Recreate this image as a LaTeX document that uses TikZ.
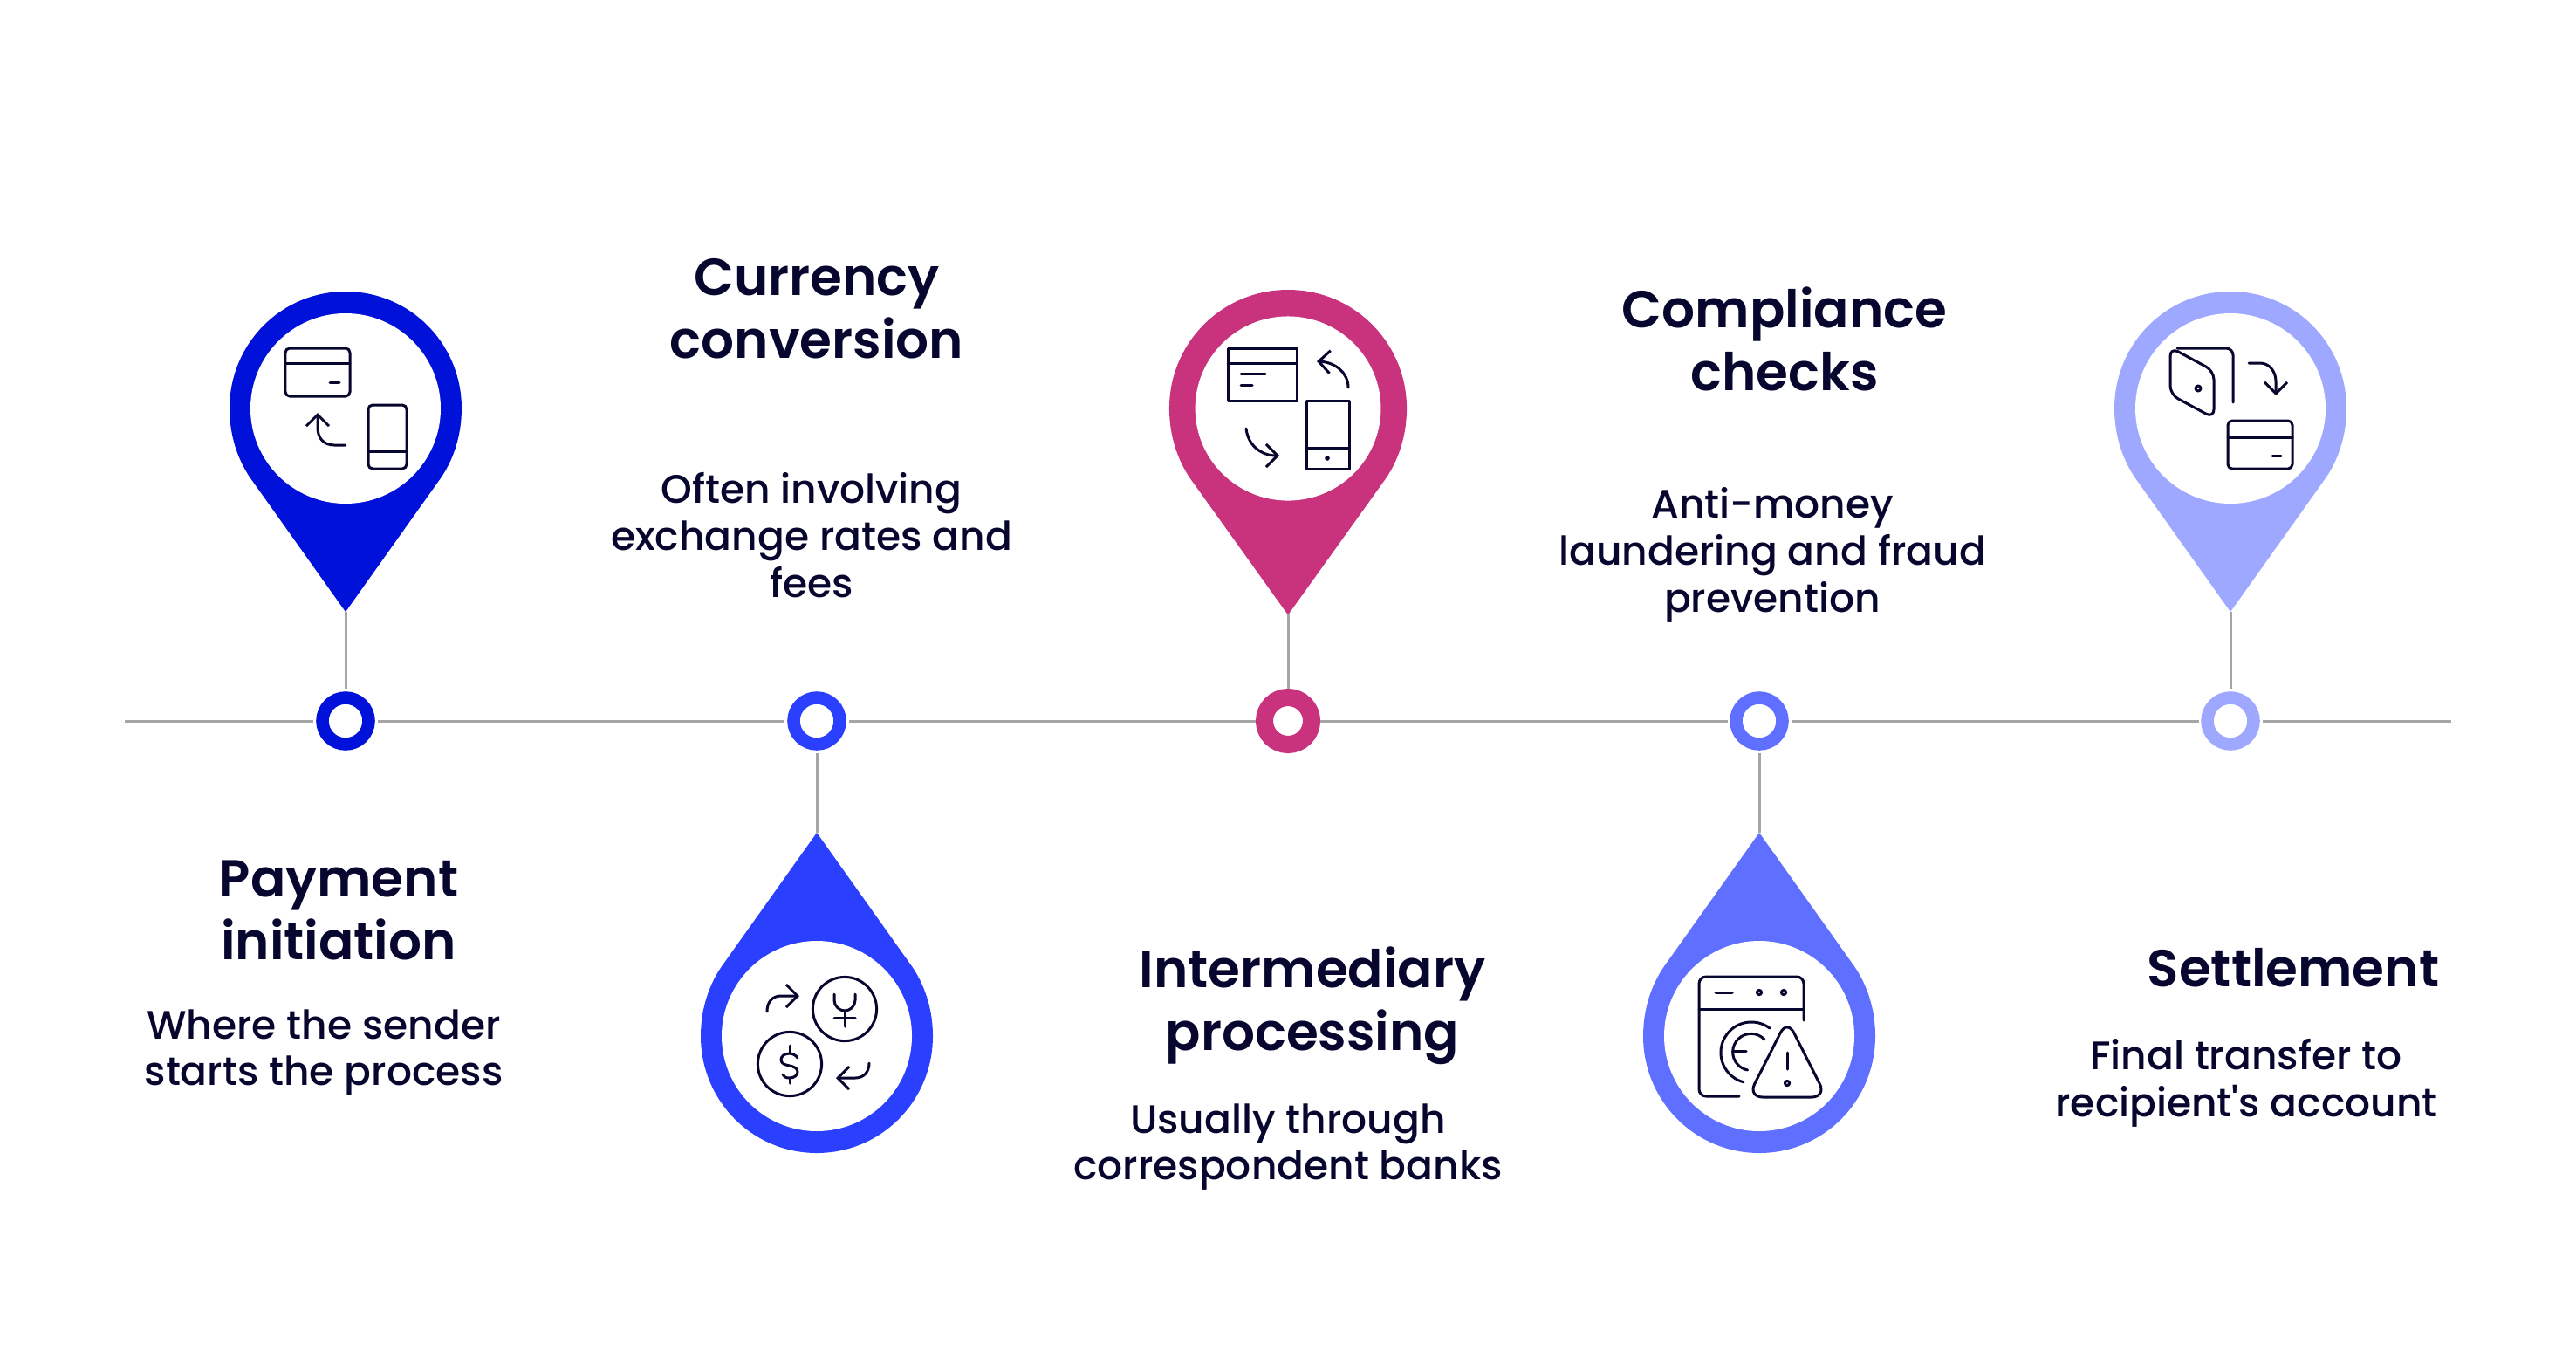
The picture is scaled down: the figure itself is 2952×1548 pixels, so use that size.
\documentclass[tikz,border=0pt]{standalone}
\usepackage{fontspec}
\usepackage{xcolor}
\setmainfont{Poppins Medium}
\newfontfamily\headfont{Poppins SemiBold}
\usetikzlibrary{shapes.geometric, arrows.meta, positioning}

\definecolor{pinA}{HTML}{0012D9}
\definecolor{pinB}{HTML}{2B3FFF}
\definecolor{pinC}{HTML}{C9337D}
\definecolor{pinD}{HTML}{5F6FFF}
\definecolor{pinE}{HTML}{9FA8FF}
\definecolor{inkblue}{HTML}{06062F}
\definecolor{axisgray}{HTML}{A6A6A6}

% center, xscale, yscale (negative flips the tip up), colour, hole radius
\newcommand{\pinshape}[5]{
\begin{scope}[shift={#1}, xscale=#2, yscale=#3]
\fill[#4] (0,233) -- (-106,84) .. controls (-124,60) and (-133,30) .. (-133,0)
  .. controls (-133,-74) and (-74,-134) .. (0,-134)
  .. controls (74,-134) and (133,-74) .. (133,0)
  .. controls (133,30) and (124,60) .. (106,84) -- cycle;
\fill[white] (0,0) circle [radius=#5];
\end{scope}
}

\tikzset{
  axisline/.style={axisgray, line width=0.85pt},
  ring/.style={circle, draw=#1, fill=white, line width=0.145cm, inner sep=0pt, minimum size=0.53cm, outer sep=0.10cm},
  headtext/.style={inkblue, align=center, font=\headfont\fontsize{16.95}{20.5}\selectfont},
  bodytext/.style={inkblue, align=center, font=\fontsize{12.95}{15.3}\selectfont},
  icon/.style={inkblue, line width=0.85pt, line cap=round, line join=round},
  iconarrow/.style={icon, -{Straight Barb[length=0.13cm, width=0.26cm, line width=0.85pt]}},
}

\begin{document}
\begin{tikzpicture}[x=0.01cm, y=-0.01cm]
\useasboundingbox (0,0) rectangle (2952,1548);

% Pins above and below the line
\pinshape{(396,468)}{1}{1}{pinA}{109}
\pinshape{(936,1187)}{1}{-1}{pinB}{109}
\pinshape{(1476,468)}{1.023}{1.015}{pinC}{104}
\pinshape{(2016,1187)}{1}{-1}{pinD}{109}
\pinshape{(2556,468)}{1}{1}{pinE}{109}

\coordinate (tipA) at (396,701);
\coordinate (tipB) at (936,954);
\coordinate (tipC) at (1476,704);
\coordinate (tipD) at (2016,954);
\coordinate (tipE) at (2556,701);
\coordinate (lineL) at (143,826);
\coordinate (lineR) at (2809,826);

% Rings on the line
\node[ring=pinA] (ringA) at (396,826) {};
\node[ring=pinB] (ringB) at (936,826) {};
\node[ring=pinC, line width=0.20cm, minimum size=0.54cm, outer sep=0.10cm] (ringC) at (1476,826) {};
\node[ring=pinD] (ringD) at (2016,826) {};
\node[ring=pinE] (ringE) at (2556,826) {};

% Line and stems
\draw[axisline] (lineL) -- (ringA);
\draw[axisline] (ringA) -- (ringB);
\draw[axisline] (ringB) -- (ringC);
\draw[axisline] (ringC) -- (ringD);
\draw[axisline] (ringD) -- (ringE);
\draw[axisline] (ringE) -- (lineR);
\draw[axisline] (tipA) -- (ringA);
\draw[axisline] (tipB) -- (ringB);
\draw[axisline] (tipC) -- (ringC);
\draw[axisline] (tipD) -- (ringD);
\draw[axisline] (tipE) -- (ringE);

% Headings
\node[headtext] (headA) at (388,1043) {Payment\\initiation};
\node[headtext] (headB) at (936,354) {Currency\\conversion};
\node[headtext] (headC) at (1504,1152) {Intermediary\\processing};
\node[headtext] (headD) at (2045,388) {Compliance\\checks};
\node[headtext] (headE) at (2628,1109) {Settlement};

% Descriptions
\node[bodytext] (textA) at (371,1206) {Where the sender\\starts the process};
\node[bodytext] (textB) at (930,613) {Often involving\\exchange rates and\\fees};
\node[bodytext] (textC) at (1476,1314) {Usually through\\correspondent banks};
\node[bodytext] (textD) at (2031,636) {Anti-money\\laundering and fraud\\prevention};
\node[bodytext] (textE) at (2574,1241) {Final transfer to\\recipient\textquotesingle s account};

% Icon in first pin
\draw[icon, rounded corners=0.05cm] (327,399) rectangle (401,454);
\draw[icon] (327,416) -- (401,416);
\draw[icon] (378,438) -- (389,438);
\draw[icon, rounded corners=0.05cm] (422,464) rectangle (466,537);
\draw[icon] (422,517) -- (466,517);
\draw[iconarrow] (396,510) -- (383,510) .. controls (371,510) and (364,502) .. (364,490) -- (364,473);

% Icon in second pin
\draw[icon] (968,1156) circle [radius=36.6];
\draw[icon] (956,1139) -- (956,1146) .. controls (956,1153) and (962,1158) .. (968,1158) .. controls (974,1158) and (980,1153) .. (980,1146) -- (980,1139);
\draw[icon] (968,1158) -- (968,1176);
\draw[icon] (956,1166) -- (980,1166);
\draw[icon] (905,1219) circle [radius=36.6];
\draw[icon] (914,1212) .. controls (912,1209) and (908,1207) .. (905,1207) .. controls (899,1207) and (895,1210) .. (895,1214) .. controls (895,1219) and (900,1220) .. (905,1221) .. controls (910,1222) and (914,1224) .. (914,1228) .. controls (914,1232) and (910,1235) .. (905,1235) .. controls (901,1235) and (898,1234) .. (897,1231);
\draw[icon] (905,1198) -- (905,1207);
\draw[icon] (905,1235) -- (905,1241);
\draw[iconarrow] (879,1159) .. controls (879,1148) and (885,1141) .. (895,1141) -- (916,1141);
\draw[iconarrow] (996,1218) .. controls (996,1228) and (990,1235) .. (980,1235) -- (958,1235);

% Icon in third pin
\draw[icon] (1407,399) rectangle (1486,459);
\draw[icon] (1407,416) -- (1486,416);
\draw[icon] (1422,428) -- (1450,428);
\draw[icon] (1422,441) -- (1435,441);
\draw[icon] (1497,459) rectangle (1546,537);
\draw[icon] (1497,513) -- (1546,513);
\fill[inkblue] (1521,525) circle (2.8);
\draw[iconarrow] (1545,444) .. controls (1545,427) and (1530,415) .. (1509,414);
\draw[iconarrow] (1428,491) .. controls (1430,510) and (1445,522) .. (1466,522);

% Icon in fourth pin
\draw[icon, rounded corners=0.08cm] (1993,1256) -- (1947,1256) -- (1947,1119) -- (2067,1119) -- (2067,1169);
\draw[icon] (1947,1156) -- (2067,1156);
\draw[icon] (1966,1137) -- (1985,1137);
\draw[icon] (2016,1137) circle (2.6);
\draw[icon] (2044,1137) circle (2.6);
\draw[icon] (2028,1178) arc [start angle=-53, end angle=-255, radius=35];
\draw[icon] (2022,1191) arc [start angle=-43, end angle=-259, radius=21];
\draw[icon] (1986,1204) -- (2001,1204);
\draw[icon, rounded corners=0.17cm] (2048,1168) -- (2093,1257) -- (2003,1257) -- cycle;
\draw[icon] (2048,1206) -- (2048,1225);
\draw[icon] (2048,1241) circle (2.6);

% Icon in fifth pin
\draw[icon, rounded corners=0.08cm] (2559,461) -- (2559,399) -- (2495,399);
\draw[icon, rounded corners=0.10cm] (2487,398) -- (2537,425) -- (2537,479) -- (2487,452) -- cycle;
\draw[icon] (2519,445) circle (3);
\draw[iconarrow] (2577,416) -- (2590,416) .. controls (2600,416) and (2608,425) .. (2608,437) -- (2608,453);
\draw[icon, rounded corners=0.05cm] (2553,482) rectangle (2627,537);
\draw[icon] (2553,501) -- (2627,501);
\draw[icon] (2604,522) -- (2614,522);
\end{tikzpicture}
\end{document}
